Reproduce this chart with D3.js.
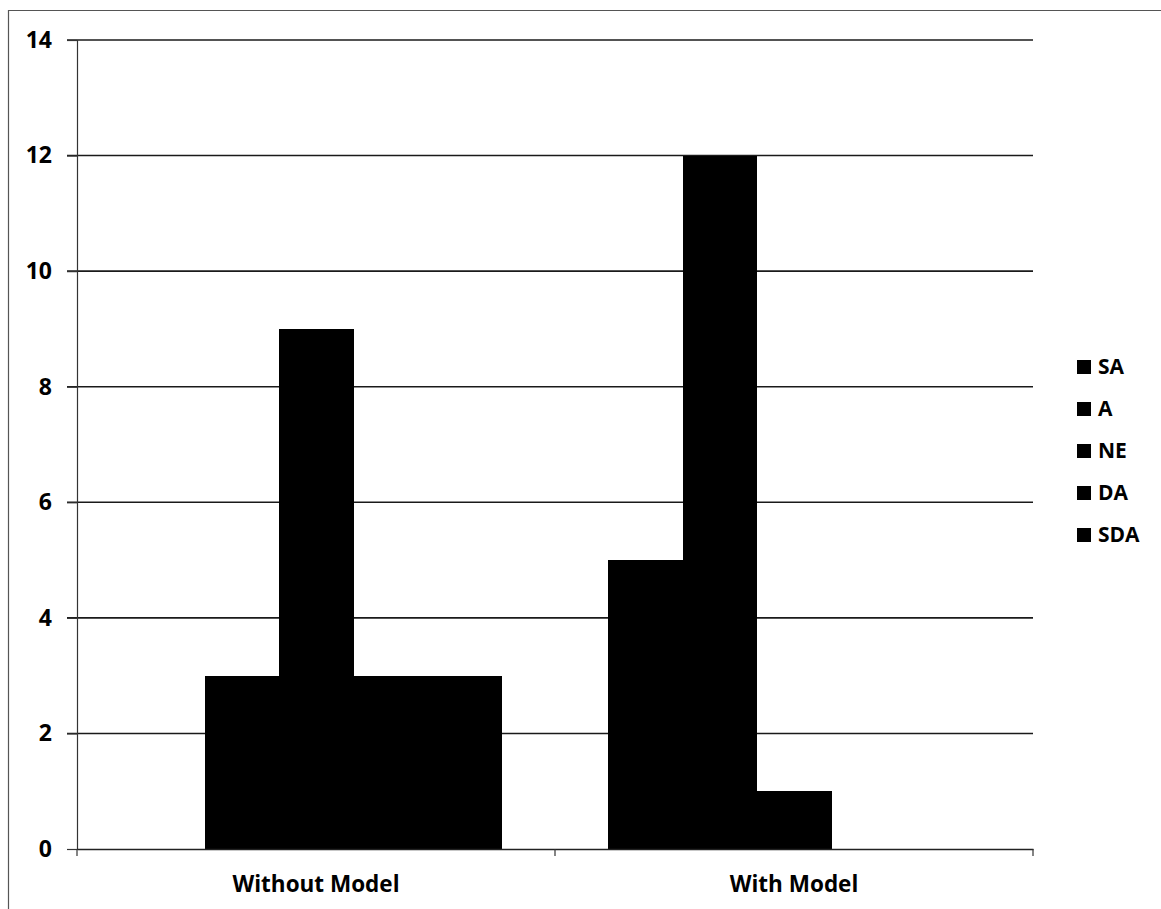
<!DOCTYPE html>
<html>
<head>
<meta charset="utf-8">
<script src="https://cdn.jsdelivr.net/npm/d3@7/dist/d3.min.js"></script>
<style>
  html, body { margin: 0; padding: 0; background: #fff; }
  svg { display: block; }
  text { font-family: "Open Sans", "DejaVu Sans", sans-serif; font-weight: 700; fill: #000; }
</style>
</head>
<body>
<svg id="chart" width="1161" height="909"></svg>
<script>
// Survey responses per group, by agreement level
const categories = ["Without Model", "With Model"];
const seriesNames = ["SA", "A", "NE", "DA", "SDA"];
const withoutModel = [0, 3, 9, 3, 3];
const withModel = [5, 12, 1, 0, 0];
const yTicks = [0, 2, 4, 6, 8, 10, 12, 14];

const valuesByCategory = [withoutModel, withModel];
const rows = categories.map((c, i) => ({
  category: c,
  values: seriesNames.map((s, j) => ({ key: s, value: valuesByCategory[i][j] }))
}));

const svg = d3.select("#chart");
const W = 1161, H = 909;
const margin = { top: 40, right: 128, bottom: 60, left: 77 };
const plotW = W - margin.left - margin.right;
const plotH = H - margin.top - margin.bottom;

// Chart area frame
svg.append("path")
  .attr("d", `M8.5,${H} V10.5 H${W}`)
  .attr("fill", "none")
  .attr("stroke", "#555")
  .attr("stroke-width", 1.2);

const g = svg.append("g").attr("transform", `translate(${margin.left},${margin.top})`);

const x0 = d3.scaleBand().domain(categories).range([0, plotW]).paddingInner(0).paddingOuter(0);
const x1 = d3.scaleBand().domain(seriesNames).range([0, x0.bandwidth()]).paddingInner(0).paddingOuter(0.72);
const y = d3.scaleLinear().domain([0, 14]).range([plotH, 0]);

const color = d3.scaleOrdinal().domain(seriesNames).range(["#000", "#000", "#000", "#000", "#000"]);

// Horizontal gridlines with left-pointing ticks
g.append("g")
  .selectAll("line")
  .data(yTicks.filter(t => t > 0))
  .join("line")
  .attr("x1", -10)
  .attr("x2", plotW)
  .attr("y1", d => y(d))
  .attr("y2", d => y(d))
  .attr("stroke", "#1a1a1a")
  .attr("stroke-width", 1.6);

// Bars (adjacent bars share edges, so snap them to whole pixels)
const groups = g.append("g")
  .selectAll("g")
  .data(rows)
  .join("g")
  .attr("transform", d => `translate(${x0(d.category)},0)`);

groups.selectAll("rect")
  .data(d => d.values)
  .join("rect")
  .attr("x", d => x1(d.key))
  .attr("width", x1.bandwidth() + 0.5)
  .attr("y", d => y(d.value))
  .attr("height", d => y(0) - y(d.value))
  .attr("fill", d => color(d.key))
  .attr("shape-rendering", "crispEdges");

// Y axis
const yAxis = g.append("g")
  .call(d3.axisLeft(y).tickValues(yTicks).tickSize(10).tickPadding(15).tickFormat(d3.format("d")));
yAxis.select(".domain").attr("stroke", "#333").attr("stroke-width", 1.2);
yAxis.selectAll(".tick line").attr("stroke", "#333").attr("stroke-width", 1.2);
yAxis.selectAll(".tick text")
  .attr("font-size", 23)
  .style("font-family", "'Open Sans', sans-serif")
  .style("font-weight", 700)
  .attr("fill", "#000");

// X axis
const xAxis = g.append("g")
  .attr("transform", `translate(0,${plotH})`)
  .call(d3.axisBottom(x0).tickSize(0).tickPadding(27));
xAxis.select(".domain").attr("stroke", "#222").attr("stroke-width", 1.6);
xAxis.selectAll(".tick text")
  .attr("font-size", 22.5)
  .style("font-family", "'Open Sans', sans-serif")
  .style("font-weight", 700)
  .attr("fill", "#000");

// Category boundary ticks
g.append("g")
  .selectAll("line")
  .data([0, plotW / 2, plotW])
  .join("line")
  .attr("x1", d => d)
  .attr("x2", d => d)
  .attr("y1", plotH)
  .attr("y2", plotH + 7)
  .attr("stroke", "#333")
  .attr("stroke-width", 1.2);

// Legend
const legend = svg.append("g").attr("transform", "translate(1077,367)");
const items = legend.selectAll("g")
  .data(seriesNames)
  .join("g")
  .attr("transform", (d, i) => `translate(0,${i * 42})`);
items.append("rect")
  .attr("x", 0)
  .attr("y", -7)
  .attr("width", 14)
  .attr("height", 14)
  .attr("fill", d => color(d));
items.append("text")
  .attr("x", 21)
  .attr("y", 0)
  .attr("dy", "0.35em")
  .attr("font-size", 21)
  .text(d => d);
</script>
</body>
</html>
